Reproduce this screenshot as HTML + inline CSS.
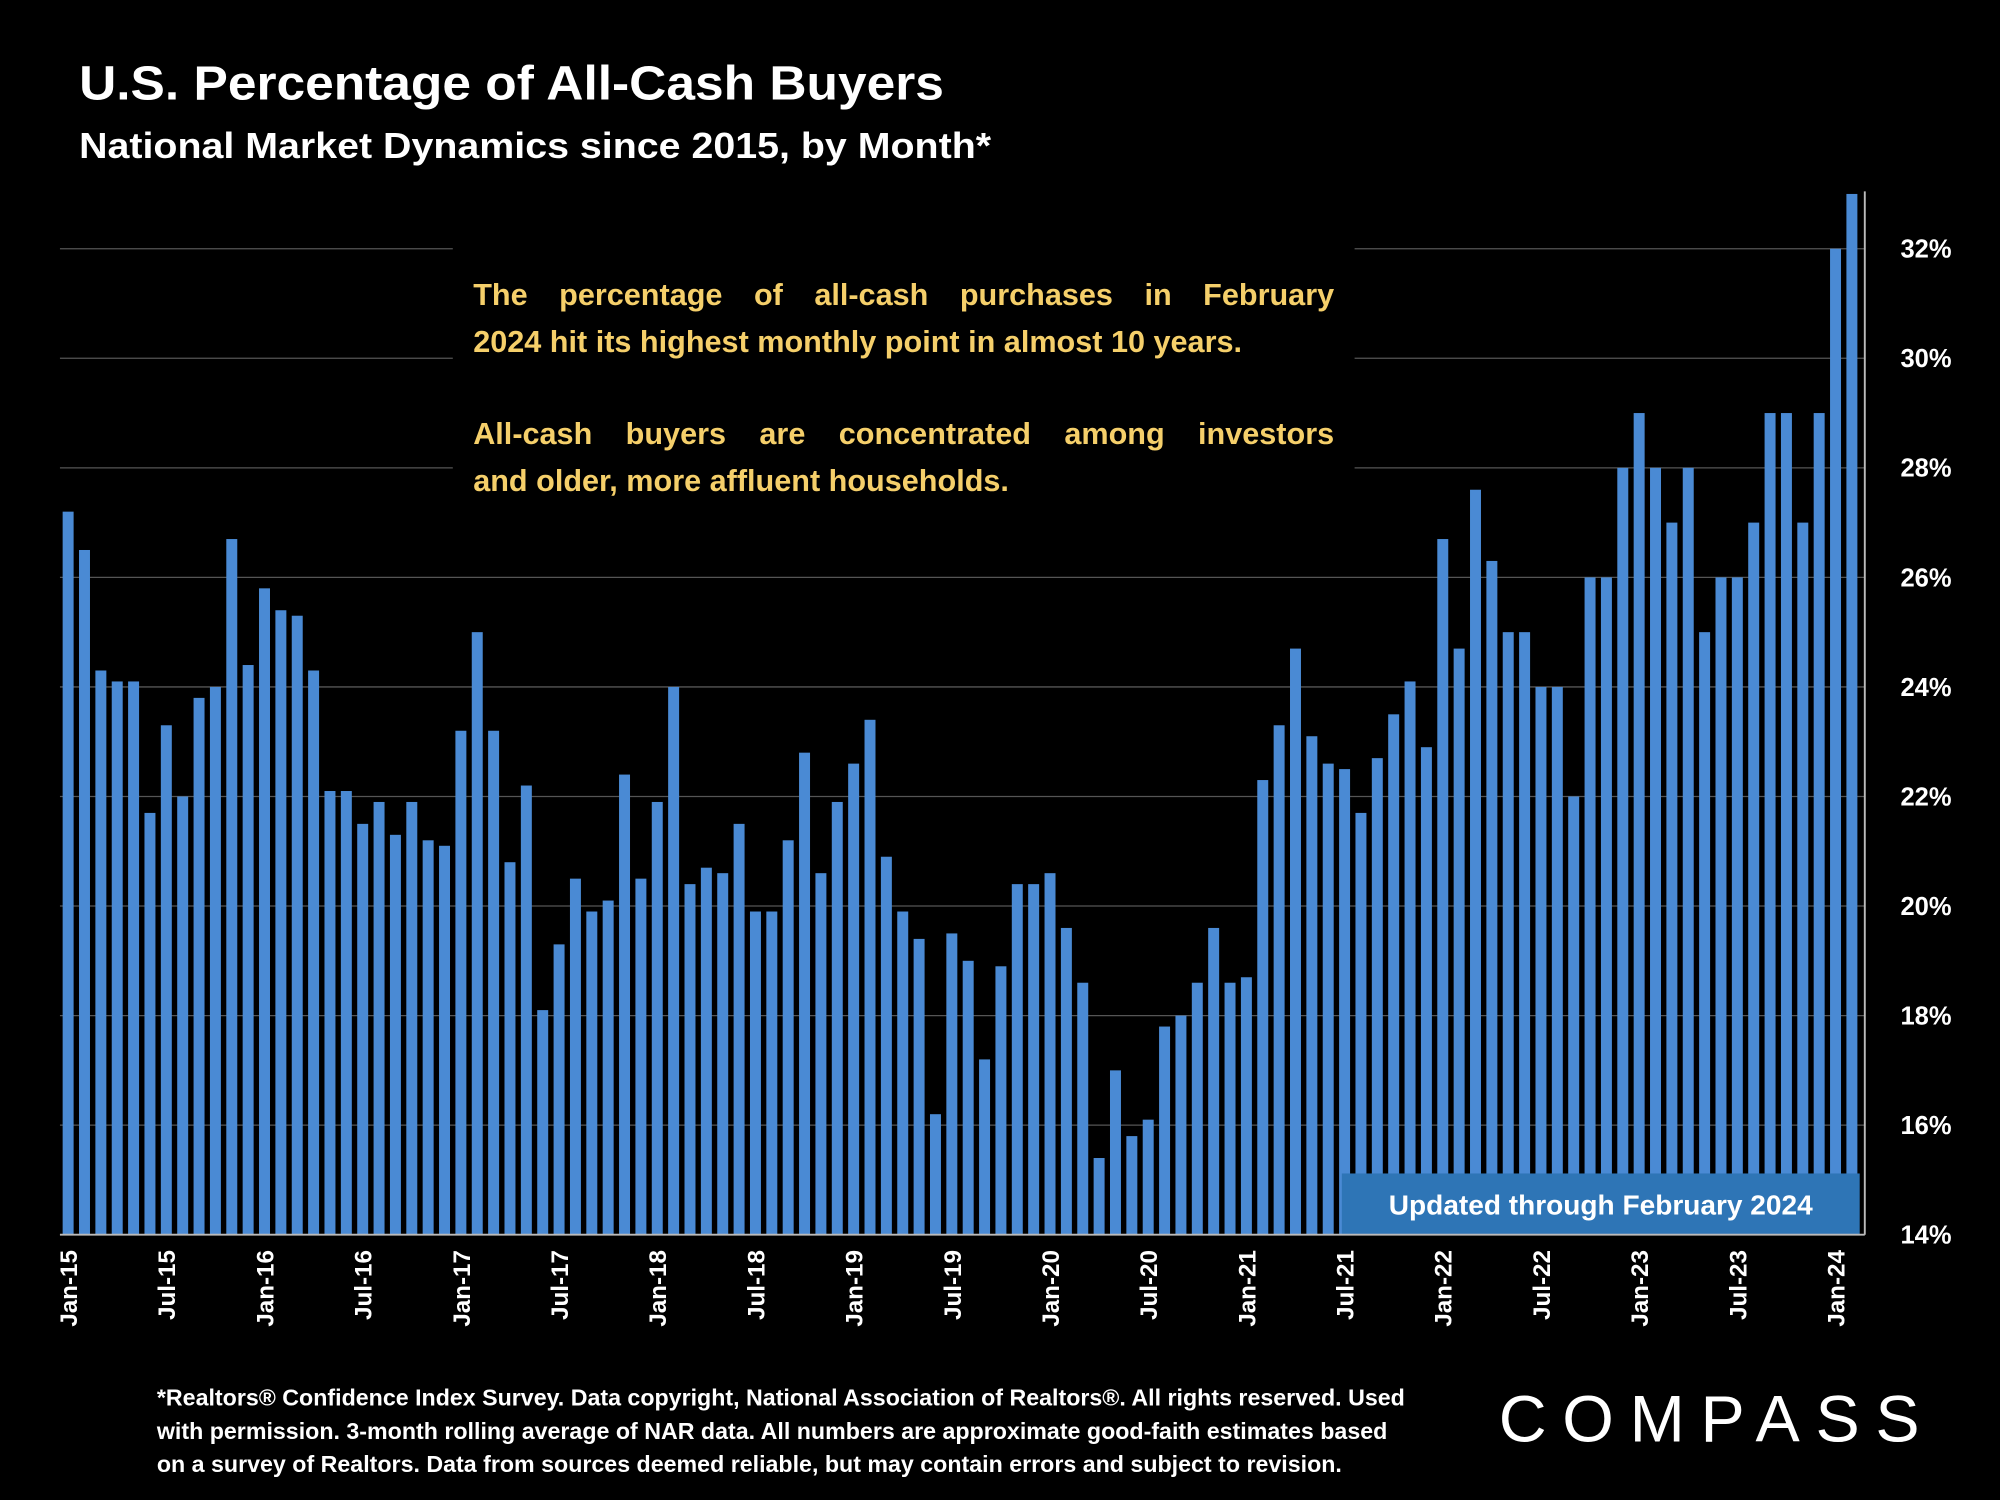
<!DOCTYPE html>
<html><head><meta charset="utf-8">
<style>
html,body{margin:0;padding:0;background:#000;}
svg{display:block;}
text{font-family:"Liberation Sans",sans-serif;}
</style></head>
<body>
<svg id="chart" width="2000" height="1500" viewBox="0 0 1568 1176" xmlns="http://www.w3.org/2000/svg">
<rect width="1568" height="1176" fill="#000"/>
<text x="62" y="78" fill="#fff" font-size="38" font-weight="bold" textLength="678" lengthAdjust="spacingAndGlyphs">U.S. Percentage of All-Cash Buyers</text>
<text x="62" y="124" fill="#fff" font-size="28" font-weight="bold" textLength="715" lengthAdjust="spacingAndGlyphs">National Market Dynamics since 2015, by Month*</text>
<g id="grid"></g>
<g id="bars"></g>
<g id="ylabels"></g>
<g id="xlabels"></g>
<rect x="355" y="186" width="707" height="212" fill="#000"/>
<g fill="#f5cf6a" font-size="24" font-weight="bold">
<text class="just" x="371" y="239">The percentage of all-cash purchases in February</text>
<text x="371" y="276">2024 hit its highest monthly point in almost 10 years.</text>
<text class="just" x="371" y="348">All-cash buyers are concentrated among investors</text>
<text x="371" y="385">and older, more affluent households.</text>
</g>
<rect x="1052" y="920" width="406" height="48" fill="#2e75b6"/>
<text x="1255" y="952" fill="#fff" font-size="22" font-weight="bold" text-anchor="middle">Updated through February 2024</text>
<line id="xaxis" x1="47" x2="1462" y1="968" y2="968" stroke="#bbb" stroke-width="1.5"/>
<line x1="1462" x2="1462" y1="150" y2="968" stroke="#bbb" stroke-width="1.5"/>
<g fill="#fff" font-size="18.2" font-weight="bold">
<text x="123" y="1102">*Realtors® Confidence Index Survey. Data copyright, National Association of Realtors®. All rights reserved. Used</text>
<text x="123" y="1128">with permission. 3-month rolling average of NAR data. All numbers are approximate good-faith estimates based</text>
<text x="123" y="1154">on a survey of Realtors. Data from sources deemed reliable, but may contain errors and subject to revision.</text>
</g>
<text x="1175" y="1130" fill="#fff" font-size="52" textLength="330" lengthAdjust="spacing">COMPASS</text>
</svg>
<script>
const months = ["Jan","Feb","Mar","Apr","May","Jun","Jul","Aug","Sep","Oct","Nov","Dec"];
const values = [
27.2,26.5,24.3,24.1,24.1,21.7,23.3,22.0,23.8,24.0,26.7,24.4,
25.8,25.4,25.3,24.3,22.1,22.1,21.5,21.9,21.3,21.9,21.2,21.1,
23.2,25.0,23.2,20.8,22.2,18.1,19.3,20.5,19.9,20.1,22.4,20.5,
21.9,24.0,20.4,20.7,20.6,21.5,19.9,19.9,21.2,22.8,20.6,21.9,
22.6,23.4,20.9,19.9,19.4,16.2,19.5,19.0,17.2,18.9,20.4,20.4,
20.6,19.6,18.6,15.4,17.0,15.8,16.1,17.8,18.0,18.6,19.6,18.6,
18.7,22.3,23.3,24.7,23.1,22.6,22.5,21.7,22.7,23.5,24.1,22.9,
26.7,24.7,27.6,26.3,25.0,25.0,24.0,24.0,22.0,26.0,26.0,28.0,
29.0,28.0,27.0,28.0,25.0,26.0,26.0,27.0,29.0,29.0,27.0,29.0,
32.0,33.0];
const yTicks = [14,16,18,20,22,24,26,28,30,32];
const startYear = 2015;
const NS="http://www.w3.org/2000/svg";
const x0=47, step=12.83, bw=8.6;
const yScale=v=>968-(v-14)*(773/18);
const xScale=i=>x0+step*(i+0.5);
const grid=document.getElementById('grid'), yl=document.getElementById('ylabels');
yTicks.forEach(t=>{
  const l=document.createElementNS(NS,'line');
  
  
  l.setAttribute('x1',x0);l.setAttribute('x2',1462);
  l.setAttribute('y1',yScale(t));l.setAttribute('y2',yScale(t));
  l.setAttribute('stroke','#555');l.setAttribute('stroke-width','1');
  grid.appendChild(l);
  const tx=document.createElementNS(NS,'text');
  
  
  tx.setAttribute('x',1530);tx.setAttribute('y',yScale(t)+7);
  tx.setAttribute('fill','#fff');tx.setAttribute('font-size','20');tx.setAttribute('font-weight','bold');
  tx.setAttribute('text-anchor','end');
  tx.textContent=t+'%';
  yl.appendChild(tx);
});
const bars=document.getElementById('bars'), xl=document.getElementById('xlabels');
values.forEach((v,i)=>{
  const r=document.createElementNS(NS,'rect');
  
  
  r.setAttribute('x',xScale(i)-bw/2);r.setAttribute('width',bw);
  r.setAttribute('y',yScale(v));r.setAttribute('height',968-yScale(v));
  r.setAttribute('fill','#4a8ad4');
  bars.appendChild(r);
  const m=i%12;
  if(m===0||m===6){
    const yr=String(startYear+Math.floor(i/12)).slice(2);
    const tx=document.createElementNS(NS,'text');
    
    
    const cx=xScale(i)+7, cy=980;
    tx.setAttribute('x',cx);tx.setAttribute('y',cy);
    tx.setAttribute('transform','rotate(-90 '+cx+' '+cy+')');
    tx.setAttribute('fill','#fff');tx.setAttribute('font-size','19');tx.setAttribute('font-weight','bold');
    tx.setAttribute('text-anchor','end');
    tx.textContent=months[m]+'-'+yr;
    xl.appendChild(tx);
  }
});
document.querySelectorAll('text.just').forEach(t=>{
  const len=t.getComputedTextLength();
  const n=t.textContent.split(' ').length-1;
  if(n>0) t.setAttribute('word-spacing',((675-len)/n).toFixed(2));
});
</script>
</body></html>
